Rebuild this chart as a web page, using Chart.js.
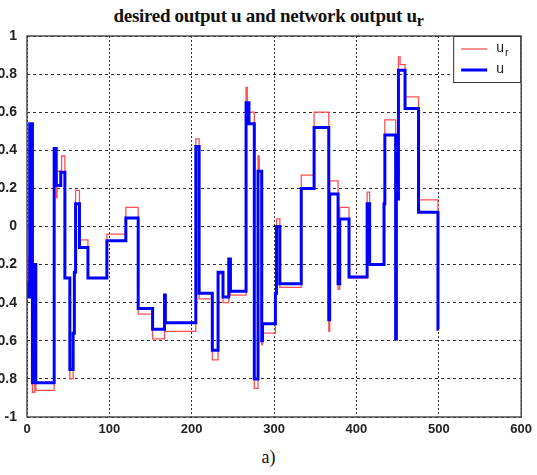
<!doctype html>
<html>

<head>
    <title>desired output u and network output ur</title>
    <script src="https://cdn.jsdelivr.net/npm/chart.js"></script>
    <style>
        body {
            margin: 0;
            background: #ffffff;
            width: 537px;
            height: 475px;
            overflow: hidden;
            position: relative;
        }

        #titulo {
            position: absolute;
            top: 5px;
            left: 0;
            width: 537px;
            text-align: center;
            font: bold 19px 'Liberation Serif', serif;
            letter-spacing: -0.3px;
            color: #111;
        }

        #titulo sub {
            font-size: 16px;
            vertical-align: -4px;
        }

        #grafico {
            position: absolute;
            top: 0;
            left: 0;
        }

        #rodape {
            position: absolute;
            top: 447px;
            left: 0;
            width: 537px;
            text-align: center;
            font: 18px 'Liberation Serif', serif;
            color: #111;
        }
    </style>
</head>

<body>
    <div id="titulo">desired output u and network output u<sub>r</sub></div>
    <canvas id="grafico" width="537" height="440"></canvas>
    <div id="rodape">a)</div>

    <script>
        // desired output u (blue), values hold from each x until the next one
        var uX = [0, 1, 3.3, 6.6, 9.5, 10.7, 33, 35.5, 41, 46, 52, 56, 57.5, 59, 63.7, 74, 97, 120, 135, 152.5,
            167, 168, 205, 209, 225, 232, 238, 245, 247, 266, 269.5, 276, 280.5, 285, 286, 301.6, 303, 307, 333,
            348.6, 366.4, 367.5, 377.7, 379.7, 391, 413, 416, 433.5, 434.5, 447.6, 448.5, 451, 459, 475.4, 499, 500];
        var uY = [-0.3, -0.37, 0.54, -0.82, -0.2, -0.82, 0.41, 0.215, 0.285, -0.27, -0.75, -0.56, -0.24, 0.12, -0.11,
            -0.27, -0.075, 0.045, -0.43, -0.54, -0.36, -0.505, 0.42, -0.35, -0.65, -0.24, -0.37, -0.17, -0.34, 0.65,
            0.54, -0.8, 0.29, -0.6, -0.51, -0.35, 0, -0.3, 0.2, 0.52, -0.49, 0.17, -0.3, 0.04, -0.265, 0.12, -0.2,
            0.12, 0.48, -0.59, 0.145, 0.82, 0.62, 0.075, -0.54, -0.54];

        // network output ur (red)
        var urX = [0, 0.5, 1.5, 3.3, 6.6, 9.5, 10.7, 33, 35.5, 36.5, 42, 46, 52, 56, 57.5, 59, 63.7, 74, 97, 120,
            135, 152.5, 167, 168, 205, 209, 225, 232, 238, 245, 247, 266, 267.5, 276, 280.5, 282, 285, 286, 301.6,
            303, 307, 333, 348.6, 366.4, 367.5, 377.7, 379.7, 391, 413, 416, 433.5, 434.5, 447.6, 448.5, 451, 453,
            459, 475.4, 499, 500];
        var urY = [0, -0.16, -0.3, 0.54, -0.87, -0.2, -0.86, 0.41, 0.15, 0.29, 0.37, -0.27, -0.8, -0.56, -0.24,
            0.19, -0.07, -0.27, -0.04, 0.1, -0.46, -0.59, -0.36, -0.55, 0.46, -0.38, -0.7, -0.25, -0.4, -0.17,
            -0.36, 0.73, 0.6, -0.85, 0.37, 0.29, -0.62, -0.56, -0.35, 0.04, -0.32, 0.27, 0.6, -0.55, 0.24, -0.33,
            0.1, -0.27, 0.18, -0.2, 0.12, 0.56, -0.59, 0.145, 0.89, 0.85, 0.68, 0.14, -0.54, -0.54];

        var xTicks = [0, 100, 200, 300, 400, 500, 600];
        var yTicks = [-1, -0.8, -0.6, -0.4, -0.2, 0, 0.2, 0.4, 0.6, 0.8, 1];

        function pontos(xs, ys) {
            return xs.map(function (x, i) { return { x: x, y: ys[i] }; });
        }

        // caixa do grafico e legenda dentro da area
        var molduraLegenda = {
            id: 'molduraLegenda',
            afterDatasetsDraw: function (chart) {
                var a = chart.chartArea;
                var ctx = chart.ctx;
                ctx.save();
                ctx.strokeStyle = '#444';
                ctx.lineWidth = 1.4;
                ctx.strokeRect(a.left, a.top, a.right - a.left, a.bottom - a.top);
                ctx.restore();
            },
            afterDraw: function (chart) {
                var a = chart.chartArea;
                var ctx = chart.ctx;
                var w = 68, h = 47;
                var bx = a.right - w, by = a.top;
                ctx.save();
                ctx.fillStyle = '#fff';
                ctx.fillRect(bx, by, w, h);
                ctx.strokeStyle = '#333';
                ctx.lineWidth = 1;
                ctx.strokeRect(bx + 0.5, by + 0.5, w - 1, h - 1);
                var itens = chart.data.datasets.slice().sort(function (p, q) { return p.legendPos - q.legendPos; });
                itens.forEach(function (ds, i) {
                    var yy = by + 13 + i * 21;
                    ctx.strokeStyle = ds.borderColor;
                    ctx.lineWidth = ds.borderWidth;
                    ctx.beginPath();
                    ctx.moveTo(bx + 8, yy);
                    ctx.lineTo(bx + 34, yy);
                    ctx.stroke();
                    ctx.fillStyle = '#222';
                    ctx.textBaseline = 'middle';
                    ctx.font = '14px "Liberation Sans", Arial, sans-serif';
                    ctx.fillText(ds.label, bx + 43, yy - 1);
                    if (ds.labelSub) {
                        var lw = ctx.measureText(ds.label).width;
                        ctx.font = '11px "Liberation Sans", Arial, sans-serif';
                        ctx.fillText(ds.labelSub, bx + 43 + lw + 1, yy + 4);
                    }
                });
                ctx.restore();
            }
        };

        var contexto = document.getElementById('grafico');
        var grafico = new Chart(contexto, {
            type: 'line',
            data: {
                datasets: [{
                    label: 'u',
                    legendPos: 1,
                    data: pontos(uX, uY),
                    stepped: true,
                    borderColor: '#0000ff',
                    borderWidth: 3,
                    pointRadius: 0,
                    fill: false,
                    order: 0
                }, {
                    label: 'u',
                    labelSub: 'r',
                    legendPos: 0,
                    data: pontos(urX, urY),
                    stepped: true,
                    borderColor: '#ff5050',
                    borderWidth: 1.3,
                    pointRadius: 0,
                    fill: false,
                    order: 1
                }]
            },
            options: {
                responsive: false,
                animation: false,
                layout: { padding: { top: 36, right: 12, bottom: 0, left: 0 } },
                plugins: {
                    legend: { display: false },
                    tooltip: { enabled: false }
                },
                scales: {
                    x: {
                        type: 'linear',
                        min: 0,
                        max: 600,
                        afterBuildTicks: function (s) { s.ticks = xTicks.map(function (v) { return { value: v }; }); },
                        afterFit: function (s) { s.height = 23; },
                        grid: { color: '#333', lineWidth: 1, drawTicks: false },
                        border: { display: false, dash: [2, 2] },
                        ticks: {
                            padding: 5,
                            color: '#222',
                            font: { family: 'Liberation Sans', size: 13, weight: 'bold' },
                            callback: function (v) { return String(v); }
                        }
                    },
                    y: {
                        min: -1,
                        max: 1,
                        afterBuildTicks: function (s) { s.ticks = yTicks.map(function (v) { return { value: v }; }); },
                        afterFit: function (s) { s.width = 27; },
                        grid: { color: '#333', lineWidth: 1, drawTicks: false },
                        border: { display: false, dash: [3, 3] },
                        ticks: {
                            padding: 10,
                            color: '#222',
                            font: { family: 'Liberation Sans', size: 14, weight: 'bold' },
                            callback: function (v) { return String(+v.toFixed(1)); }
                        }
                    }
                }
            },
            plugins: [molduraLegenda]
        });
    </script>
</body>

</html>
